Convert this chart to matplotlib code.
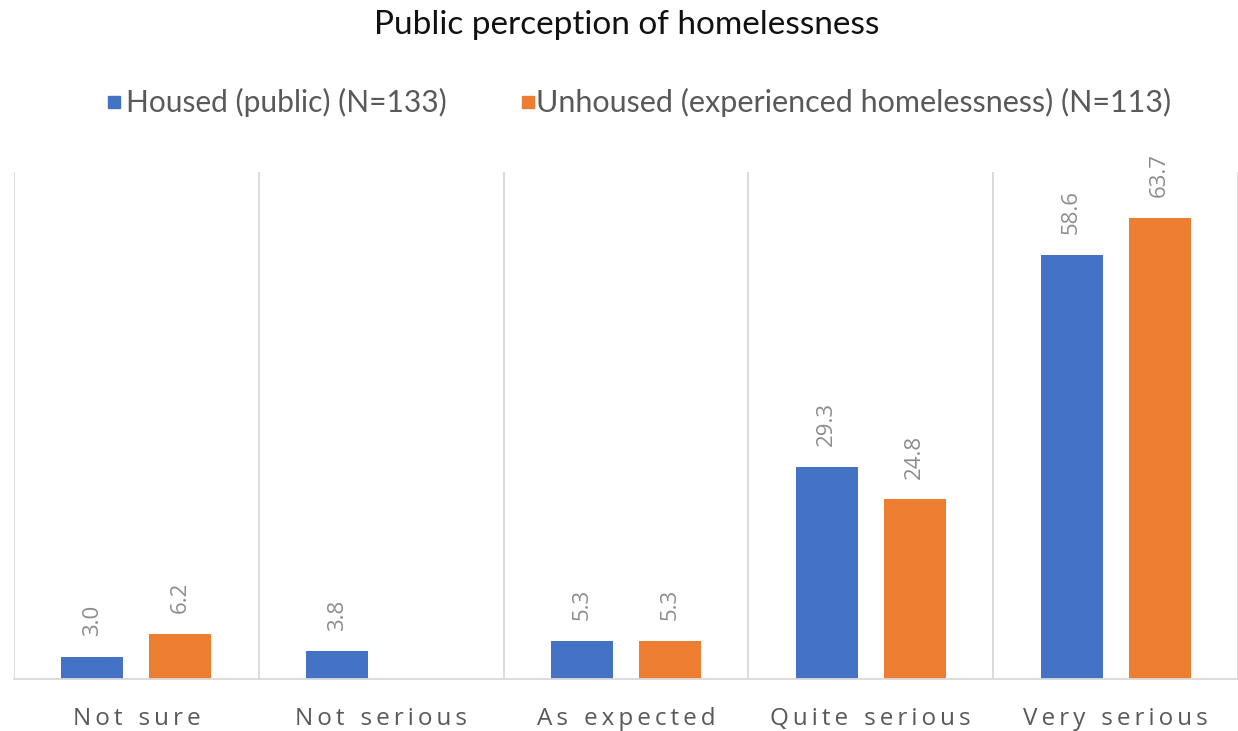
import matplotlib.pyplot as plt
import numpy as np

categories = ['Not sure', 'Not serious', 'As expected', 'Quite serious', 'Very serious']
housed = [3.0, 3.8, 5.3, 29.3, 58.6]
unhoused = [6.2, None, 5.3, 24.8, 63.7]
series_names = ['Housed (public) (N=133)', 'Unhoused (experienced homelessness) (N=113)']

blue = '#4472C4'
orange = '#ED7D31'
grid_col = '#D9D9D9'

plt.rcParams['font.family'] = ['Lato', 'DejaVu Sans']

fig = plt.figure(figsize=(12.38, 7.31), dpi=100)
ax = fig.add_axes([14 / 1238, 52 / 731, 1224 / 1238, 507 / 731])

x = np.arange(len(categories))
w = 0.253
off = 0.18

for vals, sign, col in [(housed, -1, blue), (unhoused, 1, orange)]:
    for i, v in enumerate(vals):
        if v is None:
            continue
        ax.bar(x[i] + sign * off, v, width=w, color=col)
        ax.annotate(f'{v:.1f}', (x[i] + sign * off, v), xytext=(0, 15),
                    textcoords='offset points', rotation=90, ha='center', va='bottom',
                    fontsize=16, color='#8C8C8C', family='Open Sans')

ax.set_xlim(-0.5, len(categories) - 0.5)
ax.set_ylim(0, 70)

# category separators
for b in np.arange(-0.5, len(categories), 1.0):
    ax.axvline(b, color=grid_col, lw=1.3, zorder=0)

for s in ['top', 'right', 'left']:
    ax.spines[s].set_visible(False)
ax.spines['bottom'].set_color(grid_col)
ax.spines['bottom'].set_linewidth(1.3)
ax.set_yticks([])
ax.set_xticks(x)


def spaced(label):
    # widen the tracking of the category names
    return ('\u2009' * 4).join('\u2009'.join(word) for word in label.split(' '))


ax.set_xticklabels([spaced(c) for c in categories], fontsize=17.5, color='#595959',
                   family=['Open Sans', 'DejaVu Sans'])
ax.tick_params(axis='x', length=0, pad=20)

fig.text(0.506, 0.966, 'Public perception of homelessness', ha='center', va='center',
         fontsize=24, color='#111111')

# legend
fig.patches.append(plt.Rectangle((108 / 1238, 1 - 108 / 731), 12 / 1238, 12 / 731,
                                 transform=fig.transFigure, color=blue))
fig.text(126 / 1238, 1 - 102 / 731, series_names[0], va='center', fontsize=21.5, color='#595959')
fig.patches.append(plt.Rectangle((522 / 1238, 1 - 108 / 731), 12 / 1238, 12 / 731,
                                 transform=fig.transFigure, color=orange))
fig.text(536 / 1238, 1 - 102 / 731, series_names[1], va='center', fontsize=22, color='#595959')

fig.savefig('out.png', dpi=100, facecolor='white')
